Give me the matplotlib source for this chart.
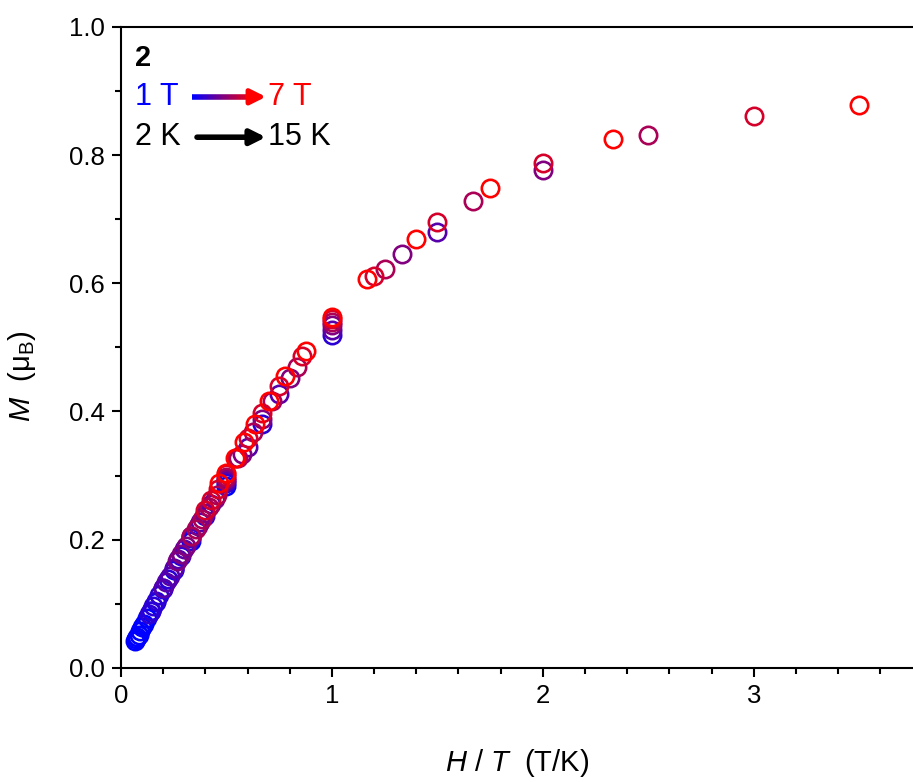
import numpy as np
import matplotlib.pyplot as plt
from matplotlib.collections import LineCollection

plt.rcParams['font.family'] = ['Liberation Sans', 'DejaVu Sans']
plt.rcParams['mathtext.fontset'] = 'custom'
plt.rcParams['mathtext.rm'] = 'Liberation Sans'
plt.rcParams['mathtext.it'] = 'Liberation Sans:italic'
plt.rcParams['mathtext.bf'] = 'Liberation Sans:bold'

# ==========================
# Dati: M (muB) per campo, T = 2..15 K
# ==========================

fields = [1, 2, 3, 4, 5, 6, 7]            # T
temps = [2, 3, 4, 5, 6, 7, 8, 9, 10, 11, 12, 13, 14, 15]   # K

M_1T = [0.283, 0.198, 0.152, 0.123, 0.103, 0.089, 0.078, 0.069, 0.063, 0.057, 0.052, 0.048, 0.045, 0.042]
M_2T = [0.519, 0.380, 0.288, 0.237, 0.202, 0.175, 0.154, 0.138, 0.125, 0.114, 0.104, 0.096, 0.089, 0.084]
M_3T = [0.680, 0.527, 0.427, 0.345, 0.292, 0.256, 0.227, 0.204, 0.186, 0.170, 0.155, 0.144, 0.134, 0.125]
M_4T = [0.777, 0.645, 0.535, 0.452, 0.389, 0.333, 0.295, 0.264, 0.241, 0.221, 0.205, 0.190, 0.178, 0.167]
M_5T = [0.831, 0.728, 0.623, 0.540, 0.470, 0.416, 0.368, 0.328, 0.297, 0.270, 0.251, 0.233, 0.217, 0.206]
M_6T = [0.861, 0.787, 0.695, 0.612, 0.545, 0.487, 0.440, 0.398, 0.358, 0.328, 0.302, 0.279, 0.262, 0.246]
M_7T = [0.878, 0.825, 0.748, 0.669, 0.606, 0.548, 0.494, 0.455, 0.417, 0.380, 0.352, 0.328, 0.304, 0.288]

all_M = [M_1T, M_2T, M_3T, M_4T, M_5T, M_6T, M_7T]

# ==========================
# Figura
# ==========================

fig = plt.figure(figsize=(9.13, 7.82), dpi=100)
ax = fig.add_axes([0.1325, 0.146, 0.8675, 0.8195])

temps_arr = np.array(temps, dtype=float)
n = len(fields)
for i, (H, M) in enumerate(zip(fields, all_M)):
    f = i / (n - 1)
    color = (f, 0.0, 1.0 - f)
    ax.plot(H / temps_arr, M, linestyle='none', marker='o', markersize=12.5,
            markerfacecolor='none', markeredgecolor=color, markeredgewidth=1.9)

ax.set_xlim(0, 3.755)
ax.set_ylim(0, 1.0)
ax.set_xticks([0, 1, 2, 3])
ax.set_xticks(np.arange(0, 3.75, 0.2), minor=True)
ax.set_yticks(np.arange(0, 1.01, 0.2))
ax.set_yticks(np.arange(0.1, 1.0, 0.2), minor=True)
ax.yaxis.set_major_formatter(plt.FormatStrFormatter('%.1f'))

for side in ['left', 'bottom', 'top']:
    ax.spines[side].set_linewidth(1.5)
ax.spines['right'].set_visible(False)

ax.tick_params(axis='both', which='major', direction='out', length=6.5, width=1.5,
               labelsize=18.5, pad=5)
ax.tick_params(axis='both', which='minor', direction='out', length=4, width=1.5)
ax.tick_params(top=False, right=False, which='both')

ax.set_xlabel(r'$\mathit{H}$ / $\mathit{T}$  (T/K)', fontsize=21, labelpad=28)
ax.set_ylabel(r'$\mathit{M}$  (μ$_\mathrm{B}$)', fontsize=21, labelpad=10)
ax.yaxis.set_label_coords(-0.105, 0.455)

# ==========================
# Legenda
# ==========================

ax.text(0.018, 0.951, '2', transform=ax.transAxes, fontsize=21, fontweight='bold',
        va='center', ha='left')
ax.text(0.018, 0.891, '1 T', transform=ax.transAxes, fontsize=22, color='blue',
        va='center', ha='left')
ax.text(0.186, 0.891, '7 T', transform=ax.transAxes, fontsize=22, color='red',
        va='center', ha='left')
ax.text(0.018, 0.828, '2 K', transform=ax.transAxes, fontsize=22, color='black',
        va='center', ha='left')
ax.text(0.186, 0.828, '15 K', transform=ax.transAxes, fontsize=22, color='black',
        va='center', ha='left')

# freccia a gradiente blu -> rosso
xs = np.linspace(0.090, 0.168, 40)
segs = [[(xs[k], 0.891), (xs[k + 1], 0.891)] for k in range(len(xs) - 1)]
cols = [(k / (len(xs) - 2), 0, 1 - k / (len(xs) - 2)) for k in range(len(xs) - 1)]
lc = LineCollection(segs, colors=cols, linewidths=4, transform=ax.transAxes,
                    capstyle='butt')
ax.add_collection(lc)
ax.annotate('', xy=(0.183, 0.891), xytext=(0.160, 0.891),
            xycoords='axes fraction', textcoords='axes fraction',
            arrowprops=dict(arrowstyle='-|>,head_length=0.9,head_width=0.45',
                            color='red', lw=3.5, shrinkA=0, shrinkB=0))

ax.annotate('', xy=(0.183, 0.828), xytext=(0.096, 0.828),
            xycoords='axes fraction', textcoords='axes fraction',
            arrowprops=dict(arrowstyle='-|>,head_length=0.9,head_width=0.45',
                            color='black', lw=4, shrinkA=0, shrinkB=0))

fig.savefig('out.png', dpi=100)
